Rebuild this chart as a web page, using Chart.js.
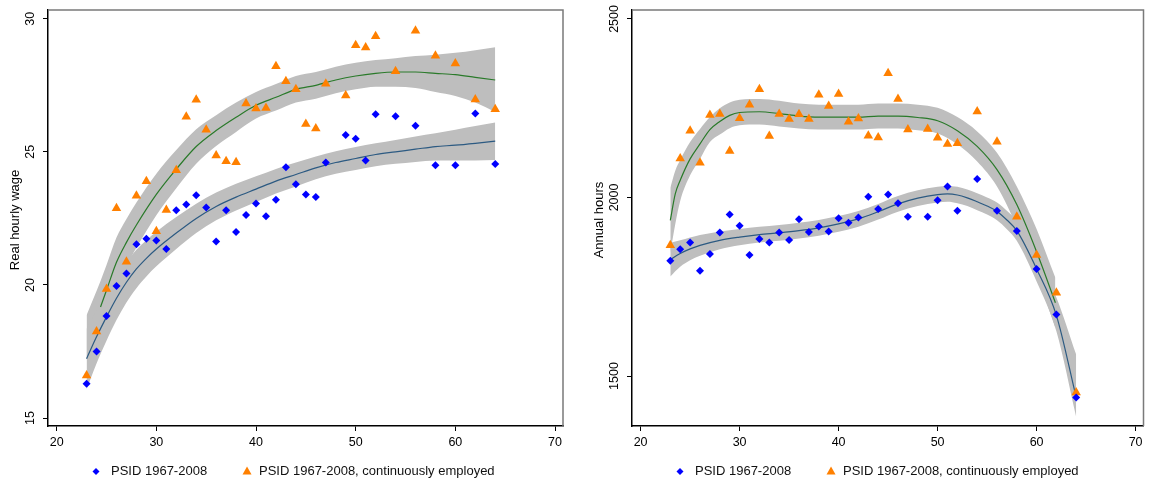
<!DOCTYPE html>
<html>
<head>
<meta charset="utf-8">
<title>Wage and hours by age</title>
<script src="https://cdn.jsdelivr.net/npm/chart.js@4.4.0/dist/chart.umd.min.js"></script>
<style>
  body { margin: 0; background: #fff; }
  #wrap { position: relative; width: 1149px; height: 483px; }
  #wageBox { position: absolute; left: 0; top: 0; }
  #hoursBox { position: absolute; left: 575px; top: 0; }
</style>
</head>
<body>
<div id="wrap">
  <div id="wageBox"><canvas id="wageChart" width="575" height="483"></canvas></div>
  <div id="hoursBox"><canvas id="hoursChart" width="574" height="483"></canvas></div>
</div>
<script>
// ages with an observation (no 48, 53, 55 ...)
const ages = [23, 24, 25, 26, 27, 28, 29, 30, 31, 32, 33, 34, 35, 36, 37, 38, 39, 40, 41, 42,
  43, 44, 45, 46, 47, 49, 50, 51, 52, 54, 56, 58, 60, 62, 64];

const seriesLabels = ['PSID 1967-2008', 'PSID 1967-2008, continuously employed'];

// real hourly wage
const wageAll = [16.29, 17.5, 18.83, 19.96, 20.43, 21.53, 21.74, 21.67, 21.35, 22.81, 23.02, 23.37,
  22.91, 21.63, 22.81, 21.99, 22.63, 23.06, 22.58, 23.2, 24.42, 23.78, 23.4, 23.3, 24.6, 25.63,
  25.49, 24.68, 26.41, 26.34, 25.98, 24.5, 24.5, 26.44, 24.54];
const wageEmp = [16.6, 18.25, 19.85, 22.88, 20.87, 23.35, 23.9, 22.02, 22.82, 24.31, 26.32, 26.96,
  25.83, 24.86, 24.65, 24.61, 26.82, 26.63, 26.65, 28.22, 27.65, 27.35, 26.05, 25.88, 27.56, 27.12,
  29.01, 28.92, 29.34, 28.03, 29.55, 28.61, 28.32, 26.97, 26.6];

// fitted curves and confidence bands, wage panel
const wageFitAgesAll = [23, 24, 25, 26, 27, 28, 29, 30, 32, 34, 36, 38, 40, 42, 44, 46, 48, 50, 52, 54, 56, 58, 60, 62, 64];
const wageFitAll = [17.23, 18.05, 18.8, 19.5, 20.1, 20.6, 21.0, 21.35, 21.95, 22.5, 22.95, 23.3, 23.6,
  23.9, 24.15, 24.4, 24.6, 24.75, 24.9, 25.0, 25.1, 25.2, 25.25, 25.32, 25.4];
const wageHiAll = [18.35, 19.05, 19.7, 20.32, 20.86, 21.32, 21.68, 22.0, 22.55, 23.05, 23.47, 23.8, 24.08,
  24.36, 24.6, 24.83, 25.02, 25.18, 25.32, 25.45, 25.58, 25.7, 25.83, 25.97, 26.1];
const wageLoAll = [16.07, 17.05, 17.9, 18.68, 19.34, 19.88, 20.32, 20.7, 21.35, 21.95, 22.43, 22.8, 23.12,
  23.44, 23.7, 23.97, 24.18, 24.32, 24.46, 24.55, 24.62, 24.68, 24.68, 24.68, 24.69];

const wageFitAgesEmp = [24.4, 25, 26, 27, 28, 30, 32, 34, 36, 38, 40, 42, 44, 46, 48, 50, 52, 54, 56, 58, 60, 62, 64];
const wageFitEmp = [19.17, 19.8, 20.85, 21.6, 22.25, 23.4, 24.35, 25.2, 25.8, 26.3, 26.75, 27.05, 27.35,
  27.5, 27.7, 27.85, 27.95, 28.0, 28.0, 27.95, 27.9, 27.8, 27.7];
const wageBandAgesEmp = [23, 24.4, 25, 26, 27, 28, 30, 32, 34, 36, 38, 40, 42, 44, 46, 48, 50, 52, 54, 56, 58, 60, 62, 64];
const wageHiEmp = [18.86, 20.15, 20.75, 21.78, 22.48, 23.1, 24.18, 25.07, 25.85, 26.38, 26.85, 27.25, 27.55,
  27.85, 28.0, 28.2, 28.35, 28.45, 28.52, 28.6, 28.65, 28.72, 28.82, 28.93];
const wageLoEmp = [17.2, 18.2, 18.85, 19.92, 20.72, 21.4, 22.62, 23.63, 24.55, 25.22, 25.75, 26.25, 26.55,
  26.85, 27.0, 27.2, 27.35, 27.45, 27.45, 27.4, 27.25, 27.1, 26.85, 26.5];

// annual hours
const hoursAll = [1823, 1855, 1874, 1795, 1842, 1902, 1952, 1921, 1839, 1884, 1874, 1902, 1881, 1939,
  1903, 1919, 1905, 1942, 1929, 1944, 2002, 1968, 2008, 1984, 1946, 1946, 1992, 2031, 1963, 2052,
  1963, 1906, 1800, 1672, 1440];
const hoursEmp = [1866, 2109, 2187, 2097, 2231, 2234, 2130, 2222, 2260, 2303, 2172, 2234, 2220, 2233,
  2220, 2288, 2256, 2290, 2212, 2221, 2173, 2168, 2348, 2276, 2190, 2192, 2167, 2150, 2152, 2241,
  2156, 1946, 1839, 1733, 1454];

// fitted curves and confidence bands, hours panel
const hoursFitAgesAll = [23, 24, 25, 26, 28, 30, 32, 34, 36, 38, 40, 42, 44, 46, 48, 50, 51, 52, 53, 54, 55, 56, 57, 58, 60, 62, 64];
const hoursFitAll = [1826, 1843, 1856, 1866, 1880, 1889, 1896, 1901, 1907, 1915, 1926, 1940, 1960, 1982,
  1998, 2008, 2010, 2007, 1999, 1988, 1976, 1961, 1937, 1907, 1800, 1670, 1440];
const hoursHiAll = [1873, 1880, 1888, 1895, 1905, 1912, 1918, 1923, 1929, 1937, 1948, 1962, 1982, 2004,
  2020, 2030, 2032, 2030, 2022, 2012, 2000, 1986, 1963, 1935, 1835, 1720, 1560];
const hoursLoAll = [1779, 1806, 1824, 1837, 1855, 1866, 1874, 1879, 1885, 1893, 1904, 1918, 1938, 1960,
  1976, 1986, 1988, 1984, 1976, 1964, 1952, 1936, 1911, 1879, 1765, 1625, 1385];

const hoursFitAgesEmp = [23, 23.5, 24, 25, 26, 27, 28, 29, 30, 32, 34, 36, 38, 40, 42, 44, 46, 48, 50, 52, 54, 56, 58, 60, 61.9];
const hoursFitEmp = [1936, 2010, 2048, 2108, 2150, 2190, 2213, 2230, 2238, 2240, 2235, 2228, 2225, 2225,
  2225, 2228, 2228, 2224, 2215, 2187, 2143, 2078, 1980, 1848, 1705];
const hoursHiEmp = [2027, 2075, 2105, 2155, 2192, 2225, 2250, 2266, 2274, 2276, 2271, 2263, 2260, 2260,
  2260, 2263, 2263, 2260, 2251, 2225, 2185, 2125, 2031, 1912, 1775];
const hoursLoEmp = [1845, 1925, 1990, 2062, 2108, 2155, 2176, 2194, 2202, 2204, 2199, 2193, 2190, 2190,
  2190, 2193, 2193, 2188, 2179, 2149, 2101, 2031, 1919, 1784, 1635];

// tick labels
const ageTicks = [20, 30, 40, 50, 60, 70];
const wageTicks = [15, 20, 25, 30];
const hoursTicks = [1500, 2000, 2500];

const BLUE = '#0000ff';
const ORANGE = '#ff8000';
const BAND = '#bebebe';
const FONT = '"Liberation Sans", Arial, sans-serif';

Chart.defaults.font.family = FONT;
Chart.defaults.color = '#000';

function pts(xs, ys) {
  return xs.map((x, i) => ({ x: x, y: ys[i] }));
}

// plot box, rotated y labels and legend the way Stata draws them
const stataFrame = {
  id: 'stataFrame',
  afterDraw(chart, args, opts) {
    const ctx = chart.ctx;
    const a = chart.chartArea;
    const y = chart.scales.y;
    ctx.save();

    ctx.strokeStyle = '#7a7a7a';
    ctx.lineWidth = 1.5;
    ctx.beginPath();
    ctx.moveTo(a.left, a.top);
    ctx.lineTo(a.right, a.top);
    ctx.lineTo(a.right, a.bottom);
    ctx.stroke();

    ctx.fillStyle = '#000';
    ctx.textAlign = 'center';
    ctx.textBaseline = 'middle';
    ctx.font = '12.5px ' + FONT;
    opts.ticks.forEach(v => {
      ctx.save();
      ctx.translate(a.left - 17, y.getPixelForValue(v));
      ctx.rotate(-Math.PI / 2);
      ctx.fillText(String(v), 0, 0);
      ctx.restore();
    });

    ctx.font = '13px ' + FONT;
    ctx.save();
    ctx.translate(a.left - 33, (a.top + a.bottom) / 2 + 2);
    ctx.rotate(-Math.PI / 2);
    ctx.fillText(opts.title, 0, 0);
    ctx.restore();

    // legend
    const ds = chart.data.datasets;
    const ly = 471.5;
    ctx.textAlign = 'left';
    ctx.fillStyle = ds[0].backgroundColor;
    let cx = a.left + 48;
    ctx.beginPath();
    ctx.moveTo(cx, ly - 3.5);
    ctx.lineTo(cx + 3.5, ly);
    ctx.lineTo(cx, ly + 3.5);
    ctx.lineTo(cx - 3.5, ly);
    ctx.closePath();
    ctx.fill();
    ctx.fillStyle = '#111';
    ctx.fillText(ds[0].label, a.left + 63, ly);

    cx = a.left + 199;
    ctx.fillStyle = ds[1].backgroundColor;
    ctx.beginPath();
    ctx.moveTo(cx, ly - 5);
    ctx.lineTo(cx + 4.5, ly + 3);
    ctx.lineTo(cx - 4.5, ly + 3);
    ctx.closePath();
    ctx.fill();
    ctx.fillStyle = '#111';
    ctx.fillText(ds[1].label, a.left + 211, ly);

    ctx.restore();
  }
};

function makeChart(id, p) {
  const lineDs = (label, data, color, order) => ({
    label: label, data: data, showLine: true, borderColor: color, borderWidth: 1.2,
    pointRadius: 0, fill: false, cubicInterpolationMode: 'monotone', order: order
  });
  const bandDs = (label, data, fill) => ({
    label: label, data: data, showLine: true, borderWidth: 0, borderColor: BAND,
    backgroundColor: BAND, pointRadius: 0, fill: fill, cubicInterpolationMode: 'monotone', order: 2
  });

  return new Chart(document.getElementById(id), {
    type: 'scatter',
    data: {
      datasets: [
        { label: seriesLabels[0], data: pts(ages, p.all), pointStyle: 'rectRot', pointRadius: 4,
          backgroundColor: BLUE, borderColor: BLUE, borderWidth: 0, order: 0 },
        { label: seriesLabels[1], data: pts(ages, p.emp), pointStyle: 'triangle', pointRadius: 5.5,
          backgroundColor: ORANGE, borderColor: ORANGE, borderWidth: 0, order: 0 },
        lineDs('fit all', pts(p.fitAgesAll, p.fitAll), '#2c5a82', 1),
        lineDs('fit employed', pts(p.fitAgesEmp, p.fitEmp), '#2a7a2a', 1),
        bandDs('ci all hi', pts(p.fitAgesAll, p.hiAll), '+1'),
        bandDs('ci all lo', pts(p.fitAgesAll, p.loAll), false),
        bandDs('ci emp hi', pts(p.bandAgesEmp, p.hiEmp), '+1'),
        bandDs('ci emp lo', pts(p.bandAgesEmp, p.loEmp), false)
      ]
    },
    options: {
      responsive: false,
      devicePixelRatio: 1,
      animation: false,
      layout: { padding: { top: 10, right: p.padRight, left: 0, bottom: 0 } },
      scales: {
        x: {
          type: 'linear', min: 19.13, max: 70.8,
          afterBuildTicks: s => { s.ticks = ageTicks.map(v => ({ value: v })); },
          afterFit: s => { s.height = 57; },
          grid: { drawOnChartArea: false, drawTicks: true, tickLength: 5, color: '#000' },
          border: { display: true, color: '#000', width: 1.5 },
          ticks: { font: { size: 12.5 }, color: '#000', padding: 4, maxRotation: 0 }
        },
        y: {
          type: 'linear', min: p.yMin, max: p.yMax,
          afterBuildTicks: s => { s.ticks = p.yTicks.map(v => ({ value: v })); },
          afterFit: s => { s.width = p.yWidth; },
          grid: { drawOnChartArea: false, drawTicks: true, tickLength: 5, color: '#000' },
          border: { display: true, color: '#000', width: 1.5 },
          ticks: { display: false }
        }
      },
      plugins: {
        legend: { display: false },
        tooltip: { enabled: false },
        stataFrame: { ticks: p.yTicks, title: p.title }
      }
    },
    plugins: [stataFrame]
  });
}

makeChart('wageChart', {
  all: wageAll, emp: wageEmp,
  fitAgesAll: wageFitAgesAll, fitAll: wageFitAll, hiAll: wageHiAll, loAll: wageLoAll,
  fitAgesEmp: wageFitAgesEmp, fitEmp: wageFitEmp,
  bandAgesEmp: wageBandAgesEmp, hiEmp: wageHiEmp, loEmp: wageLoEmp,
  yMin: 14.7, yMax: 30.33, yTicks: wageTicks, title: 'Real hourly wage',
  yWidth: 48, padRight: 12
});

makeChart('hoursChart', {
  all: hoursAll, emp: hoursEmp,
  fitAgesAll: hoursFitAgesAll, fitAll: hoursFitAll, hiAll: hoursHiAll, loAll: hoursLoAll,
  fitAgesEmp: hoursFitAgesEmp, fitEmp: hoursFitEmp,
  bandAgesEmp: hoursFitAgesEmp, hiEmp: hoursHiEmp, loEmp: hoursLoEmp,
  yMin: 1360, yMax: 2525, yTicks: hoursTicks, title: 'Annual hours',
  yWidth: 57, padRight: 2
});
</script>
</body>
</html>
